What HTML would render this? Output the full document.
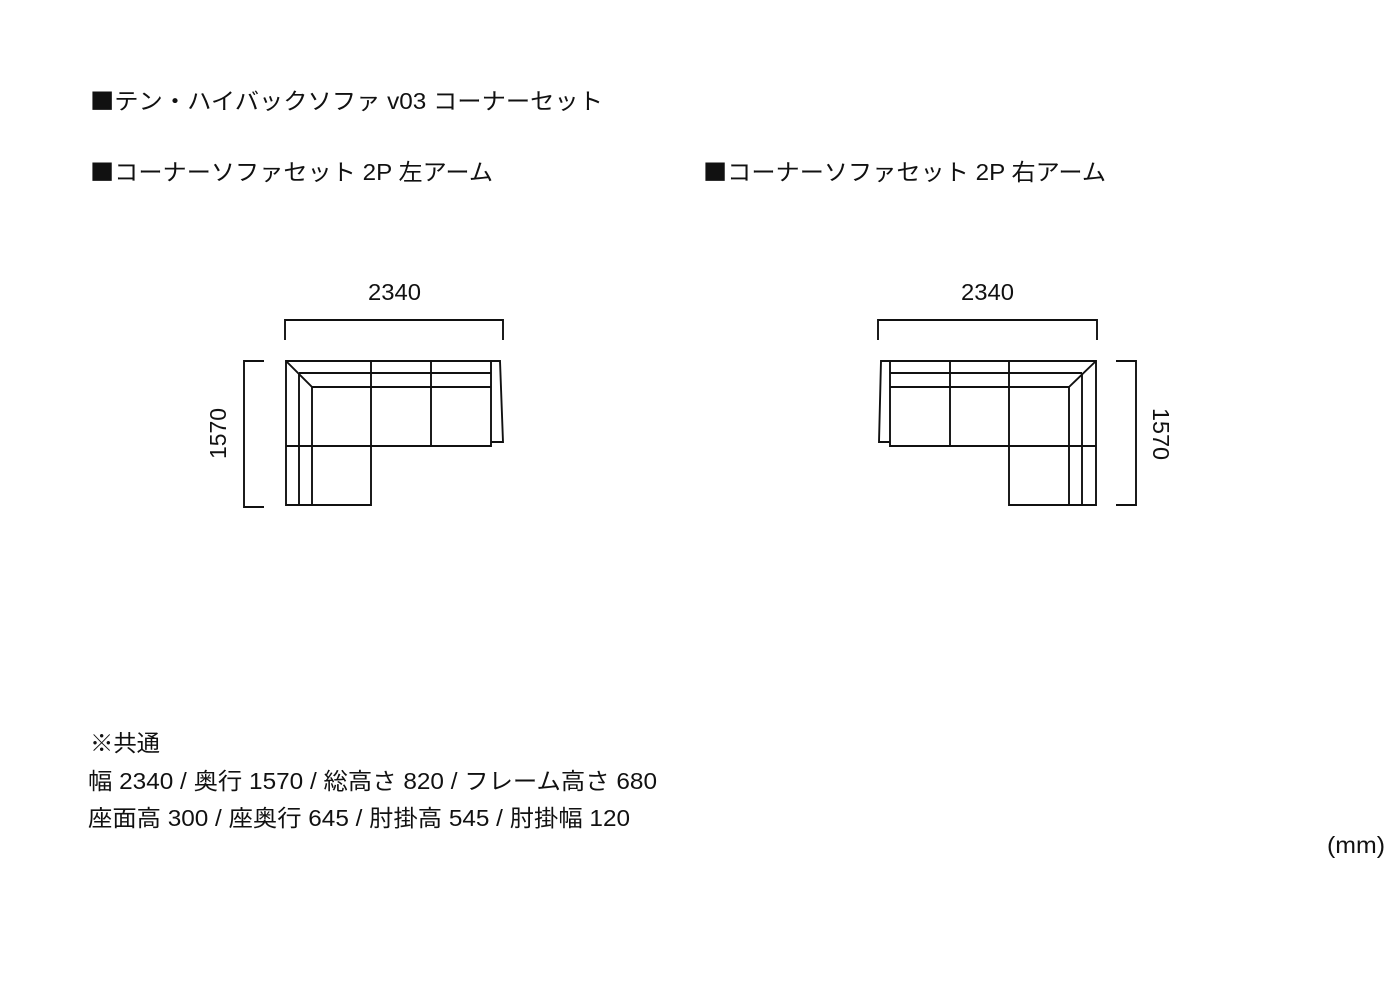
<!DOCTYPE html>
<html><head><meta charset="utf-8"><style>
html,body{margin:0;padding:0;background:#fff;}
svg{display:block;}
text{font-family:"Liberation Sans","Noto Sans CJK JP",sans-serif;fill:#111;}
.sq{font-family:"Noto Sans CJK JP",sans-serif;}
</style></head><body>
<svg width="1400" height="1000" viewBox="0 0 1400 1000" xmlns="http://www.w3.org/2000/svg">
<g font-size="23">
<text x="90" y="109" textLength="513" lengthAdjust="spacingAndGlyphs"><tspan class="sq">■</tspan>テン・ハイバックソファ v03 コーナーセット</text>
<text x="90" y="180" textLength="403" lengthAdjust="spacingAndGlyphs"><tspan class="sq">■</tspan>コーナーソファセット 2P 左アーム</text>
<text x="703" y="180" textLength="403" lengthAdjust="spacingAndGlyphs"><tspan class="sq">■</tspan>コーナーソファセット 2P 右アーム</text>
<text x="368" y="300" textLength="53" lengthAdjust="spacingAndGlyphs">2340</text>
<text x="961" y="300" textLength="53" lengthAdjust="spacingAndGlyphs">2340</text>
<text transform="translate(226,459) rotate(-90)" textLength="51" lengthAdjust="spacingAndGlyphs">1570</text>
<text transform="translate(1153,408) rotate(90)" textLength="52" lengthAdjust="spacingAndGlyphs">1570</text>
<text x="90" y="751" textLength="70" lengthAdjust="spacingAndGlyphs">※共通</text>
<text x="88" y="789" textLength="569" lengthAdjust="spacingAndGlyphs">幅 2340 / 奥行 1570 / 総高さ 820 / フレーム高さ 680</text>
<text x="88" y="826" textLength="542" lengthAdjust="spacingAndGlyphs">座面高 300 / 座奥行 645 / 肘掛高 545 / 肘掛幅 120</text>
<text x="1327" y="853" textLength="58" lengthAdjust="spacingAndGlyphs">(mm)</text>
</g>
<g fill="none" stroke="#111" stroke-width="1.9">
<!-- left -->
<path d="M285 340V320H503V340"/>
<path d="M264 361H244V507H264"/>
<path d="M286 361H491V446H371V505H286Z"/>
<path d="M371 361V446M431 361V446"/>
<path d="M299 373H491M312 387H491"/>
<path d="M286 361L312 387V505M299 373V505M286 446H371"/>
<path d="M491 361H500L503 442H491"/>
<!-- right -->
<path d="M878 340V320H1097V340"/>
<path d="M1116 361H1136V505H1116"/>
<path d="M890 361H1096V505H1009V446H890Z"/>
<path d="M950 361V446M1009 361V446"/>
<path d="M890 373H1082M890 387H1069"/>
<path d="M1096 361L1069 387V505M1082 373V505M1009 446H1096"/>
<path d="M890 361H881L879 442H890"/>
</g>
</svg>
</body></html>
